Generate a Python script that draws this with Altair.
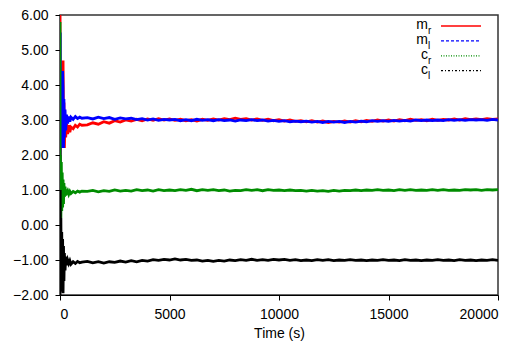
import altair as alt
import pandas as pd

# time points (s)
T = [0, 10, 20, 40, 60, 80, 100, 120, 140, 160, 180, 200, 230, 260, 300, 350, 400, 450, 500, 600, 700, 800, 900, 1000,
     1250, 1500, 1750, 2000, 2250, 2500, 2750, 3000, 3250, 3500, 3750, 4000, 4250, 4500, 4750, 5000,
     5250, 5500, 5750, 6000, 6250, 6500, 6750, 7000, 7250, 7500, 7750, 8000, 8250, 8500, 8750, 9000,
     9250, 9500, 9750, 10000, 10250, 10500, 10750, 11000, 11250, 11500, 11750, 12000, 12250, 12500, 12750, 13000,
     13250, 13500, 13750, 14000, 14250, 14500, 14750, 15000, 15250, 15500, 15750, 16000, 16250, 16500, 16750, 17000,
     17250, 17500, 17750, 18000, 18250, 18500, 18750, 19000, 19250, 19500, 19750, 20000]

m_r = [6.00, -1.90, 2.10, 3.60, 2.30, 3.90, 2.20, 4.10, 4.70, 2.40, 3.50, 2.20, 3.10, 2.50, 2.90, 2.60, 2.85, 2.65, 2.80, 2.75, 2.85, 2.80, 2.88, 2.85,
       2.86, 2.92, 2.88, 2.95, 2.91, 2.98, 2.94, 3.00,
       2.97, 3.02, 2.98, 3.03, 2.99, 3.04, 3.00, 3.03,
       2.99, 3.02, 2.98, 3.01, 2.97, 3.02, 2.99, 3.03,
       3.00, 3.04, 3.01, 3.05, 3.02, 3.04, 3.00, 3.03,
       2.99, 3.02, 2.98, 3.01, 2.97, 3.00, 2.96, 2.98,
       2.95, 2.98, 2.94, 2.97, 2.93, 2.96, 2.94, 2.97,
       2.94, 2.98, 2.95, 2.99, 2.96, 3.00, 2.97, 3.00,
       2.97, 3.01, 2.98, 3.02, 2.99, 3.01, 2.98, 3.02,
       2.99, 3.02, 3.00, 3.03, 3.00, 3.04, 3.01, 3.03,
       3.01, 3.04, 3.02, 3.03]

m_l = [-1.50, 5.50, 2.40, 3.80, 2.20, 4.20, 2.30, 4.40, 3.90, 2.20, 3.60, 2.50, 3.30, 2.70, 3.15, 2.90, 3.10, 2.95, 3.08, 3.02, 3.10, 3.04, 3.08, 3.05,
       3.07, 3.03, 3.08, 3.04, 3.07, 3.02, 3.06, 3.03,
       3.05, 3.01, 3.04, 3.00, 3.03, 2.99, 3.02, 3.00,
       3.02, 2.98, 3.01, 2.98, 3.02, 2.99, 3.01, 2.98,
       3.01, 2.98, 3.00, 2.97, 3.00, 2.98, 3.01, 2.98,
       3.00, 2.97, 2.99, 2.96, 2.98, 2.95, 2.97, 2.95,
       2.97, 2.94, 2.96, 2.93, 2.96, 2.94, 2.96, 2.93,
       2.96, 2.94, 2.97, 2.95, 2.98, 2.96, 2.98, 2.96,
       2.99, 2.97, 2.99, 2.97, 3.00, 2.98, 3.00, 2.98,
       3.00, 2.98, 3.01, 2.99, 3.01, 2.99, 3.01, 3.00,
       3.01, 2.99, 3.02, 3.00]

c_r = [5.80, -1.80, 2.00, 0.20, 1.80, 0.40, 1.50, 0.50, 1.30, 0.60, 1.20, 0.80, 1.10, 0.85, 0.92, 0.98, 0.88, 0.96, 0.90, 0.96, 0.92, 0.97, 0.94, 0.97,
       0.96, 0.99, 0.95, 0.98, 0.96, 1.00, 0.97, 0.99,
       0.97, 1.01, 0.98, 1.00, 0.97, 1.01, 0.98, 1.00,
       0.98, 1.01, 0.99, 1.02, 0.98, 1.01, 0.99, 1.01,
       0.98, 1.00, 0.97, 0.99, 0.98, 1.01, 0.99, 1.01,
       0.98, 1.01, 0.99, 1.00, 0.98, 1.00, 0.98, 0.99,
       0.97, 0.99, 0.97, 0.98, 0.96, 0.99, 0.97, 0.99,
       0.98, 1.00, 0.98, 1.00, 0.99, 1.01, 0.99, 1.00,
       0.98, 1.01, 0.99, 1.01, 0.99, 1.00, 0.99, 1.01,
       0.99, 1.01, 0.99, 1.00, 0.99, 1.01, 1.00, 1.01,
       0.99, 1.01, 1.00, 1.01]

c_l = [-2.00, 1.00, -1.90, 0.20, -1.80, -0.20, -1.90, -0.40, -1.95, -0.60, -1.60, -0.80, -1.30, -0.90, -1.15, -1.00, -1.10, -1.02, -1.12, -1.05, -1.10, -1.04, -1.08, -1.06,
       -1.04, -1.08, -1.05, -1.09, -1.05, -1.07, -1.03, -1.06,
       -1.02, -1.05, -1.01, -1.03, -0.99, -1.01, -0.98, -1.00,
       -0.97, -1.00, -0.98, -1.01, -1.00, -1.03, -1.01, -1.04,
       -1.01, -1.03, -1.00, -1.02, -0.99, -1.01, -0.98, -1.01,
       -0.99, -1.01, -0.98, -1.00, -0.98, -1.01, -0.99, -1.02,
       -1.00, -1.02, -0.99, -1.01, -0.99, -1.02, -1.00, -1.01,
       -0.99, -1.01, -1.00, -1.02, -1.00, -1.01, -0.99, -1.01,
       -1.00, -1.02, -0.99, -1.01, -1.00, -1.02, -1.00, -1.01,
       -0.99, -1.01, -1.00, -1.02, -0.99, -1.01, -1.00, -1.02,
       -1.00, -1.01, -0.99, -1.01]

x_ticks = [0, 5000, 10000, 15000, 20000]
y_ticks = [-2, -1, 0, 1, 2, 3, 4, 5, 6]

series = [
    ("m", "r", m_r, "#ff0000", [1, 0]),
    ("m", "l", m_l, "#0000ff", [3, 2]),
    ("c", "r", c_r, "#008c00", [1, 1.5]),
    ("c", "l", c_l, "#000000", [2, 2, 1, 2]),
]

FONT = "Liberation Sans"

xscale = alt.Scale(domain=[0, 20000], nice=False)
yscale = alt.Scale(domain=[-2, 6], nice=False)

layers = []
for i, (main, sub, vals, col, dash) in enumerate(series):
    df = pd.DataFrame({"t": T, "v": vals})
    enc_x = alt.X("t:Q", scale=xscale,
                  axis=alt.Axis(values=x_ticks, format="d", title="Time (s)", grid=False,
                                tickSize=5, labelPadding=7, titlePadding=5))
    enc_y = alt.Y("v:Q", scale=yscale,
                  axis=alt.Axis(values=y_ticks, format=".2f", title=None, grid=False,
                                tickSize=5, labelPadding=7))
    layers.append(
        alt.Chart(df).mark_line(color=col, strokeWidth=2.8, clip=True).encode(x=enc_x, y=enc_y)
    )

# legend (inside plot, top right)
leg_y0 = 11
leg_dy = 14.9
for i, (main, sub, vals, col, dash) in enumerate(series):
    y = leg_y0 + leg_dy * i
    d = pd.DataFrame({"main": [main], "sub": [sub]})
    rule_kw = dict(color=col, strokeWidth=1.3)
    if dash != [1, 0]:
        rule_kw["strokeDash"] = dash
    layers.append(alt.Chart(d).mark_rule(**rule_kw).encode(
        x=alt.value(381), x2=alt.value(421), y=alt.value(y)))
    layers.append(alt.Chart(d).mark_text(align="right", baseline="alphabetic", font=FONT,
                                         fontSize=14, color="black").encode(
        x=alt.value(368), y=alt.value(y + 3), text="main:N"))
    layers.append(alt.Chart(d).mark_text(align="left", baseline="alphabetic", font=FONT,
                                         fontSize=10, color="black").encode(
        x=alt.value(368), y=alt.value(y + 8), text="sub:N"))

chart = alt.layer(*layers).properties(
    width=438, height=280,
    padding={"left": 60, "top": 15, "right": 30, "bottom": 50},
    autosize=alt.AutoSizeParams(type="none"),
).configure_view(
    stroke="#333333", strokeWidth=1.5
).configure_axis(
    labelFont=FONT, titleFont=FONT, labelFontSize=14, titleFontSize=14,
    labelColor="black", titleColor="black", titleFontWeight="normal",
    domainColor="black", tickColor="black", domainWidth=1.2, tickWidth=1,
)

chart.save("out.html", embed_options={"renderer": "svg", "actions": False})
